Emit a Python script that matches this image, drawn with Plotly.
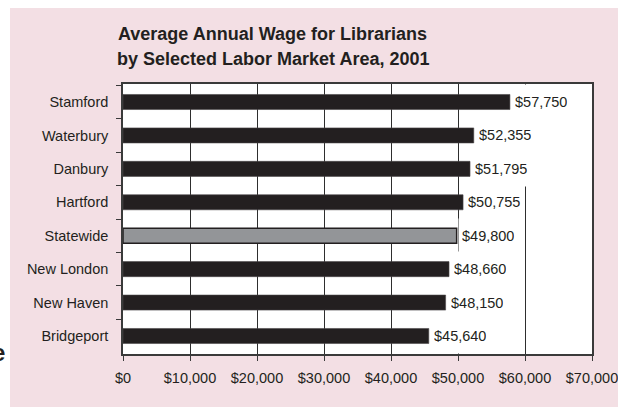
import plotly.graph_objects as go

# Average annual wage for librarians, 2001, by labor market area
areas = ["Stamford", "Waterbury", "Danbury", "Hartford", "Statewide",
         "New London", "New Haven", "Bridgeport"]
wages = [57750, 52355, 51795, 50755, 49800, 48660, 48150, 45640]
x_ticks = [0, 10000, 20000, 30000, 40000, 50000, 60000, 70000]
x_tick_text = [f"${v:,}" for v in x_ticks]

W, H = 618, 407
L, R, T, B = 123, 26, 84, 53
PW, PH = W - L - R, H - T - B

INK = "#231f20"
FONT = "Liberation Sans, Arial, sans-serif"
FS = 14.5


def px_x(px):
    return (px - L) / PW


def px_y(py):
    return (H - B - py) / PH


bar_colors = ["#939598" if a == "Statewide" else INK for a in areas]
bar_lines = [INK if a == "Statewide" else "#4a4748" for a in areas]
bar_line_w = [1.5 if a == "Statewide" else 0.6 for a in areas]

fig = go.Figure(go.Bar(
    x=wages, y=areas, orientation="h", width=0.45,
    marker=dict(color=bar_colors, line=dict(color=bar_lines, width=bar_line_w)),
    hoverinfo="skip",
))

# value labels sit on white boxes that run the height of each row
for a, v in zip(areas, wages):
    fig.add_annotation(
        x=v, y=a, xref="x", yref="y", text=f"${v:,}", showarrow=False,
        xanchor="left", yanchor="middle", xshift=1.2,
        bgcolor="white", borderpad=3, borderwidth=1, bordercolor="rgba(0,0,0,0)",
        height=28, font=dict(family=FONT, size=FS, color=INK),
    )

title_lines = ["Average Annual Wage for Librarians",
               "by Selected Labor Market Area, 2001"]
for i, line in enumerate(title_lines):
    fig.add_annotation(
        x=px_x(272.5), y=px_y(34 + 25 * i), xref="paper", yref="paper",
        text=f"<b>{line}</b>", showarrow=False, xanchor="center", yanchor="middle",
        font=dict(family=FONT, size=18, color=INK),
    )

fig.add_annotation(
    x=px_x(4.5), y=px_y(352), xref="paper", yref="paper", text="<b>e</b>",
    showarrow=False, xanchor="right", yanchor="middle", borderpad=0, borderwidth=0,
    font=dict(family=FONT, size=24, color=INK),
)

# white page edge above and left of the pink panel
fig.add_shape(type="rect", xref="paper", yref="paper", layer="below",
              x0=px_x(-20), x1=px_x(W + 40), y0=px_y(8), y1=px_y(-20),
              fillcolor="white", line_width=0)
fig.add_shape(type="rect", xref="paper", yref="paper", layer="below",
              x0=px_x(-20), x1=px_x(10), y0=px_y(H + 20), y1=px_y(-20),
              fillcolor="white", line_width=0)

axis_line = "#3a3a3a"
fig.update_layout(
    width=W, height=H,
    margin=dict(l=L, r=R, t=T, b=B, autoexpand=False),
    paper_bgcolor="#f3dfe4", plot_bgcolor="white",
    showlegend=False,
    font=dict(family=FONT, size=FS, color=INK),
    xaxis=dict(
        range=[0, 70000], tickmode="array", tickvals=x_ticks, ticktext=x_tick_text,
        showgrid=True, gridcolor="#2e2e2e", gridwidth=1.2, zeroline=False,
        showline=True, linecolor=axis_line, linewidth=1.6, mirror=True,
        ticks="outside", ticklen=5, tickcolor=axis_line, tickwidth=1.2,
        ticklabelstandoff=5, ticklabeloverflow="allow", automargin=False,
        tickfont=dict(size=FS, color=INK),
        fixedrange=True,
    ),
    yaxis=dict(
        categoryorder="array", categoryarray=areas, autorange="reversed",
        tickson="boundaries", ticks="outside", ticklen=5, tickcolor=axis_line,
        tickwidth=1.2, showgrid=False, zeroline=False,
        showline=True, linecolor=axis_line, linewidth=1.6, mirror=True,
        ticklabelstandoff=10, automargin=False,
        tickfont=dict(size=FS, color=INK),
        fixedrange=True,
    ),
)

fig.write_html("out.html", config={"displayModeBar": False})
